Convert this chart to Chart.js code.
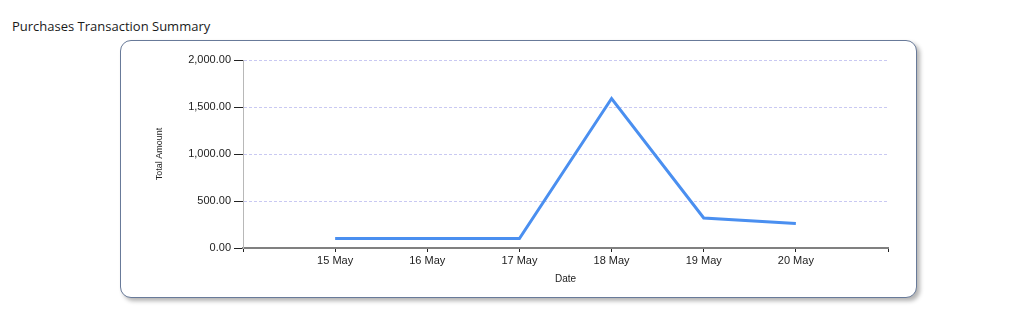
<!DOCTYPE html>
<html>
<head>
<meta charset="utf-8">
<script src="https://cdn.jsdelivr.net/npm/chart.js@4/dist/chart.umd.min.js"></script>
<style>
body { margin: 0; background: #fff; width: 1013px; height: 320px; position: relative; overflow: hidden; }
#title { position: absolute; left: 12px; top: 17px; font: 13px "Open Sans", sans-serif; color: #1a1a1a; }
#frame { position: absolute; left: 120px; top: 40px; width: 795px; height: 256px;
  border: 1.5px solid #687a99; border-radius: 11px; box-shadow: 3px 3px 4px rgba(0,0,0,0.3); background: #fff; }
#frame canvas { position: absolute; left: 0; top: 0; }
</style>
</head>
<body>
<div id="title">Purchases Transaction Summary</div>
<div id="frame"><canvas id="grafik" width="795" height="256"></canvas></div>
<script>
// data
var tanggal = ['15 May', '16 May', '17 May', '18 May', '19 May', '20 May'];
var jumlah = [100, 100, 100, 1590, 320, 260];
var ytick = [0, 500, 1000, 1500, 2000];

var titik = [];
for (var i = 0; i < tanggal.length; i++) {
	titik.push({ x: i + 1, y: jumlah[i] });
}

var fontKecil = { family: 'Liberation Sans, Arial, sans-serif', size: 11 };

var grafikku = new Chart(document.getElementById('grafik'), {
	type: 'line',
	data: {
		datasets: [{
			label: 'Total Amount',
			data: titik,
			borderColor: '#4a8ff0',
			borderWidth: 3,
			pointRadius: 0,
			tension: 0,
			fill: false
		}]
	},
	options: {
		responsive: false,
		animation: false,
		layout: { padding: { left: 0, right: 28, top: 19, bottom: 0 } },
		plugins: { legend: { display: false }, tooltip: { enabled: false } },
		scales: {
			x: {
				type: 'linear',
				min: 0,
				max: tanggal.length + 1,
				afterBuildTicks: function (s) {
					var t = [];
					for (var k = 0; k <= tanggal.length + 1; k++) t.push({ value: k });
					s.ticks = t;
				},
				afterFit: function (s) { s.height = 49; },
				ticks: {
					autoSkip: false,
					maxRotation: 0,
					padding: 2,
					color: '#222',
					font: fontKecil,
					callback: function (v) { return tanggal[v - 1] || ''; }
				},
				grid: { drawOnChartArea: false, tickLength: 4, tickColor: '#222' },
				border: { color: '#808080', width: 2 },
				title: { display: true, text: 'Date', color: '#222',
					font: { family: 'Liberation Sans, Arial, sans-serif', size: 10 },
					padding: { top: 0, bottom: 12 } }
			},
			y: {
				min: 0,
				max: 2000,
				afterBuildTicks: function (s) {
					s.ticks = ytick.map(function (v) { return { value: v }; });
				},
				afterFit: function (s) { s.width = 122; },
				ticks: {
					padding: 3,
					color: '#222',
					font: fontKecil,
					callback: function (v) {
						return v.toLocaleString('en-US', { minimumFractionDigits: 2, maximumFractionDigits: 2 });
					}
				},
				grid: {
					color: function (c) { return c.tick && c.tick.value === 0 ? 'rgba(0,0,0,0)' : '#c9c9f2'; },
					tickColor: '#222',
					tickLength: 9,
					lineWidth: 1
				},
				border: { color: '#b8b8b8', width: 1, dash: [3, 2] },
				title: { display: true, text: 'Total Amount', color: '#222',
					font: { family: 'Liberation Sans, Arial, sans-serif', size: 9 },
					padding: { top: 33, bottom: 0 } }
			}
		}
	}
});
</script>
</body>
</html>
